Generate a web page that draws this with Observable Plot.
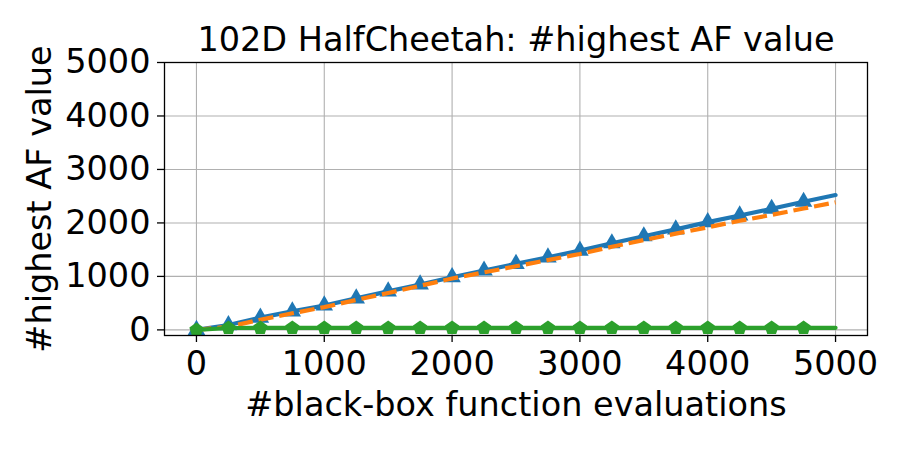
<!DOCTYPE html>
<html><head><meta charset="utf-8">
<script src="https://cdn.jsdelivr.net/npm/d3@7"></script>
<script src="https://cdn.jsdelivr.net/npm/@observablehq/plot@0.6"></script>
<style>body{margin:0;background:#fff;} svg{font-family:"DejaVu Sans";}</style>
</head><body><div id="chart"></div>
<script>
const titleText = "102D HalfCheetah: #highest AF value";
const xLabel = "#black-box function evaluations";
const yLabel = "#highest AF value";
const evals = [0,250,500,750,1000,1250,1500,1750,2000,2250,2500,2750,3000,3250,3500,3750,4000,4250,4500,4750,5000];
const blueVals = [0,90,230,345,457,590,720,850,985,1110,1235,1355,1483,1620,1750,1880,2015,2140,2265,2395,2522];
const orangeVals = [0,60,190,310,425,560,690,825,960,1075,1190,1305,1420,1555,1680,1800,1918,2040,2150,2270,2385];
const greenVals = [0,35,37,38,38,38,38,38,38,38,38,38,38,38,38,38,38,38,38,38,38];
const xTicks = [0,1000,2000,3000,4000,5000];
const yTicks = [0,1000,2000,3000,4000,5000];

const toRows = vals => evals.map((e,i)=>({x:e, y:vals[i]}));
const blue = toRows(blueVals), orange = toRows(orangeVals), green = toRows(greenVals);
const markers = rows => rows.filter(d => d.x < 5000);

const pentagon = {draw(ctx, size){
  const R = Math.sqrt(size/2.3776);
  for (let i=0;i<5;i++){
    const a = -Math.PI/2 + i*2*Math.PI/5;
    const px = R*Math.cos(a), py = R*Math.sin(a);
    if (i===0) ctx.moveTo(px,py); else ctx.lineTo(px,py);
  }
  ctx.closePath();
}};

const fs = 33.5;
const chart = Plot.plot({
  width: 900, height: 450,
  marginLeft: 164, marginRight: 33, marginTop: 62, marginBottom: 115,
  style: {fontFamily: "DejaVu Sans", background: "white", color: "black"},
  x: {domain: [-250, 5250]},
  y: {domain: [-105, 5000]},
  marks: [
    Plot.gridX(xTicks, {stroke: "#b0b0b0", strokeOpacity: 1, strokeWidth: 1.1}),
    Plot.gridY(yTicks, {stroke: "#b0b0b0", strokeOpacity: 1, strokeWidth: 1.1}),
    Plot.line(blue, {x: "x", y: "y", stroke: "#1f77b4", strokeWidth: 4.2}),
    Plot.dot(markers(blue), {x: "x", y: "y", symbol: "triangle", r: 6.5, fill: "#1f77b4", stroke: "none"}),
    Plot.line(orange, {x: "x", y: "y", stroke: "#ff7f0e", strokeWidth: 4.2, strokeDasharray: "15,6", strokeLinecap: "butt"}),
    Plot.line(green, {x: "x", y: "y", stroke: "#2ca02c", strokeWidth: 4.2}),
    Plot.dot(markers(green), {x: "x", y: "y", symbol: pentagon, r: 6.5, fill: "#2ca02c", stroke: "none"}),
    Plot.frame({stroke: "black", strokeWidth: 1.3}),
    Plot.axisX(xTicks, {tickSize: 7, tickPadding: 9, fontSize: fs, label: null, strokeWidth: 1.3, tickFormat: d3.format("d")}),
    Plot.axisY(yTicks, {tickSize: 7, tickPadding: 7, fontSize: fs, label: null, strokeWidth: 1.3, tickFormat: d3.format("d")}),
    Plot.text([titleText], {frameAnchor: "top", dy: -12, lineAnchor: "bottom", fontSize: fs, fill: "black"}),
    Plot.text([xLabel], {frameAnchor: "bottom", dy: 70, lineAnchor: "middle", fontSize: fs, fill: "black"}),
    Plot.text([yLabel], {frameAnchor: "left", dx: -124, rotate: -90, textAnchor: "middle", lineAnchor: "middle", fontSize: fs, fill: "black"})
  ]
});
document.getElementById("chart").appendChild(chart);
</script>
</body></html>
